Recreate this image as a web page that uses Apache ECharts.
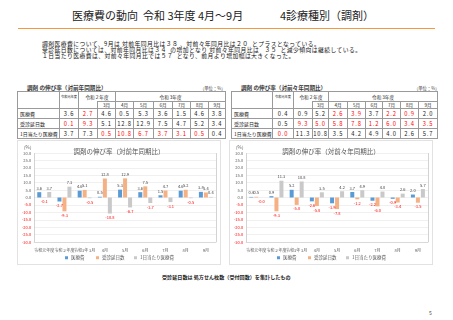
<!DOCTYPE html>
<html><head><meta charset="utf-8">
<script src="https://cdn.jsdelivr.net/npm/echarts@6/dist/echarts.min.js"></script>
<style>
*{margin:0;padding:0;box-sizing:border-box;}
body{width:453px;height:320px;background:#fff;position:relative;overflow:hidden;font-family:"Noto Sans CJK JP",sans-serif;color:#222;}
.abs{position:absolute;white-space:pre;}
.tt{top:9px;font-size:11px;line-height:13px;color:#222;}
#rule{left:18px;top:28px;width:417px;height:1px;background:#F39A3C;}
.bl{left:42px;font-size:5.8px;line-height:6px;letter-spacing:0.45px;color:#111;}
.ttl{font-size:5.6px;font-weight:bold;color:#333;}
.unit{font-size:4.3px;color:#444;}
table{position:absolute;border-collapse:collapse;table-layout:fixed;}
td{border:0.6px solid #9a9a9a;text-align:center;vertical-align:middle;padding:0;overflow:hidden;white-space:nowrap;color:#222;}
td.h{font-size:4.6px;}
td.hs{font-size:3.2px;}
td.rh{text-align:left;padding-left:2px;font-size:5px;}
td.v{font-size:5.8px;letter-spacing:0.8px;}
td.neg{color:#ff0000;}
.chart{position:absolute;width:204px;height:125px;border:1px solid #e2e2e2;background:#fff;}
#foot{left:162px;top:273px;font-size:5.1px;font-weight:bold;color:#222;}
#page{left:429px;top:309px;font-size:5px;color:#444;}
</style></head>
<body>
<div class="abs tt" style="left:72px;">医療費の動向  令和 3年度 4月～9月</div>
<div class="abs tt" style="left:280px;">4診療種別（調剤）</div>
<div id="rule" class="abs"></div>
<div class="abs bl" style="top:40.5px;">調剤医療費について、9月は 対前年同月比は３８ 、対前々年同月比は２０  とプラスとなっている。</div>
<div class="abs bl" style="top:46.5px;">受診延日数については、対前年同月比は３４  の増加となり 対前々年同月比は   ３５  と減少傾向は継続している。</div>
<div class="abs bl" style="top:52.5px;">１日当たり医療費は、対前々年同月比では５７  となり、前月より増加幅は大きくなった。</div>

<div class="abs ttl" style="left:27px;top:84px;">調剤 の伸び率（対前年同期比）</div>
<div class="abs unit" style="left:200px;top:85px;">（単位：%）</div>
<div class="abs ttl" style="left:241px;top:84px;">調剤 の伸び率（対前々年同期比）</div>
<div class="abs unit" style="left:414px;top:85px;">（単位：%）</div>
<table id="t1" style="left:17px;top:91px;width:208px;"></table>
<table id="t2" style="left:231px;top:91px;width:206px;"></table>

<div id="c1" class="chart" style="left:17px;top:140px;"></div>
<div id="c2" class="chart" style="left:229px;top:140px;"></div>
<div id="foot" class="abs">受診延日数は 処方せん枚数（受付回数）を集計したもの</div>
<div id="page" class="abs">5</div>

<script>
// ---- data ----
const categories = ['令和元年度', '令和２年度', '令和3年 3月', '4月', '5月', '6月', '7月', '8月', '9月'];
const seriesNames = ['医療費', '受診延日数', '1日当たり医療費'];
const rowLabels = ['医療費', '受診延日数', '1日当たり医療費'];
const monthHeaders = ['3月', '4月', '5月', '6月', '7月', '8月', '9月'];
const yTicks = { min: -30, max: 30, step: 5 };

// 対前年同期比
const yoyCost = [3.6, -2.7, 4.6, 0.5, 5.3, 3.6, 1.5, 4.6, 3.8];
const yoyDays = [-0.1, -9.3, 5.1, 12.8, 12.9, 7.5, 4.7, 5.2, 3.4];
const yoyPerDay = [3.7, 7.3, -0.5, -10.8, -6.7, -3.7, -3.1, -0.5, 0.4];

// 対前々年同期比
const yo2Cost = [0.4, 0.9, 5.2, -2.6, -3.9, 3.7, -2.2, -0.9, 2.0];
const yo2Days = [0.5, -9.3, -5.0, -5.8, -7.8, -1.2, -6.0, -3.4, -3.5];
const yo2PerDay = [-0.03, 11.3, 10.8, 3.5, 4.2, 4.9, 4.0, 2.6, 5.7];

const colors = ['#5B9BD5', '#F4B183', '#C9C9C9'];

// ---- tables ----
function buildTable(id, widths, rows) {
  const t = document.getElementById(id);
  let h = '<colgroup>' + widths.map(w => `<col style="width:${w}px">`).join('') + '</colgroup>';
  h += '<tr style="height:10px"><td rowspan="2" style="border-bottom:0.6px solid #9a9a9a"></td>' +
       '<td class="hs" style="border-bottom:none">令和元年度</td>' +
       '<td class="h" colspan="2" style="border-bottom:none">令和２年度</td>' +
       '<td class="h" colspan="6">令和 3年度</td></tr>';
  h += '<tr style="height:7px"><td style="border-top:none"></td><td style="border-top:none"></td>' +
       monthHeaders.map(m => `<td class="h">${m}</td>`).join('') + '</tr>';
  rows.forEach((r, i) => {
    h += `<tr style="height:${i === 2 ? 10 : 9.5}px"><td class="rh">${rowLabels[i]}</td>` +
      r.map(v => `<td class="v${v < 0 ? ' neg' : ''}">${Math.abs(v).toFixed(1)}</td>`).join('') + '</tr>';
  });
  t.innerHTML = h;
}
buildTable('t1', [42, 19, 19, 18, 18, 20, 19, 18, 18, 17], [yoyCost, yoyDays, yoyPerDay]);
buildTable('t2', [41, 21, 19, 16, 19, 18, 17, 18, 18, 19], [yo2Cost, yo2Days, yo2PerDay]);

// ---- charts ----
function mkSeries(name, arr, color) {
  return {
    name, type: 'bar', barWidth: 4, barGap: '25%',
    itemStyle: { color },
    data: arr.map(v => ({
      value: v,
      label: {
        show: true, position: v >= 0 ? 'top' : 'bottom', distance: 2,
        fontSize: 4, color: v < 0 ? '#ff0000' : '#404040',
        formatter: p => p.value.toFixed(1)
      }
    }))
  };
}
const legendLefts = [47, 78, 116];
function makeOption(title, a, b, c) {
  return {
    animation: false,
    textStyle: { fontFamily: 'Noto Sans CJK JP' },
    title: { text: title, left: 'center', top: 2, textStyle: { fontSize: 6.5, fontWeight: 'normal', color: '#595959' } },
    grid: { left: 14, right: 4, top: 12, bottom: 22, containLabel: false },
    legend: seriesNames.map((n, i) => ({
      left: legendLefts[i], bottom: 4, padding: 0, itemGap: 0,
      itemWidth: 3, itemHeight: 3, icon: 'rect',
      textStyle: { fontSize: 4.5, color: '#595959', padding: [0, 0, 0, -2] }, data: [n]
    })),
    xAxis: {
      type: 'category', data: categories,
      axisTick: { show: false },
      axisLine: { onZero: false, lineStyle: { color: '#d9d9d9' } },
      axisLabel: { fontSize: 4, color: '#595959', interval: 0, margin: 6 },
      splitLine: { show: true, interval: (i) => i === 2, lineStyle: { color: '#c8c8c8', width: 0.8 } }
    },
    yAxis: {
      type: 'value', min: yTicks.min, max: yTicks.max, interval: yTicks.step,
      name: '（%）', nameGap: 3,
      nameTextStyle: { fontSize: 4.5, color: '#595959', align: 'right' },
      axisLine: { show: false }, axisTick: { show: false },
      axisLabel: { fontSize: 4, margin: 3, formatter: v => v.toFixed(1), color: v => (v < 0 ? '#ff0000' : '#595959') },
      splitLine: { lineStyle: { color: '#e6e6e6', width: 0.6 } }
    },
    series: [mkSeries(seriesNames[0], a, colors[0]), mkSeries(seriesNames[1], b, colors[1]), mkSeries(seriesNames[2], c, colors[2])]
  };
}
echarts.init(document.getElementById('c1')).setOption(makeOption('調剤の伸び率（対前年同期比）', yoyCost, yoyDays, yoyPerDay));
echarts.init(document.getElementById('c2')).setOption(makeOption('調剤の伸び率（対前々年同期比）', yo2Cost, yo2Days, yo2PerDay));
</script>
</body></html>
